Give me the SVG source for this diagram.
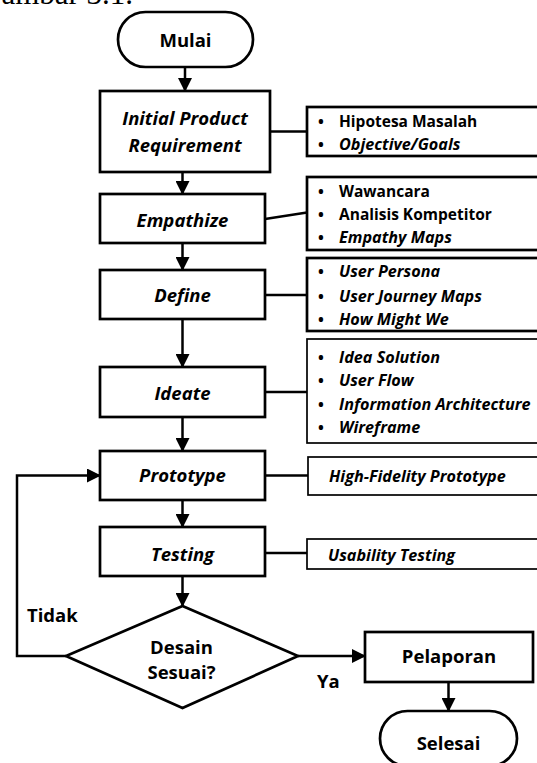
<svg xmlns="http://www.w3.org/2000/svg" width="537" height="763" viewBox="0 0 537 763">
<style>
.box{fill:#fff;stroke:#000;stroke-width:2.7}
.thin{stroke-width:1.7}
.lbl{font-family:"Open Sans","DejaVu Sans",sans-serif;font-weight:bold;font-style:italic;font-size:18.5px;text-anchor:middle;fill:#000}
.plain{font-style:normal}
.side{font-family:"Open Sans","DejaVu Sans",sans-serif;font-weight:bold;font-size:15.5px;fill:#000}
.it{font-style:italic;font-size:16.2px}
.conn{stroke:#000;stroke-width:2.5;fill:none}
.cap{font-family:"Liberation Serif","Times New Roman",serif;font-size:31px;fill:#000}
</style>
<defs>
<marker id="arr" viewBox="0 0 14 14" refX="12" refY="7" markerWidth="14" markerHeight="14" markerUnits="userSpaceOnUse" orient="auto">
<path d="M0,0 L14,7 L0,14 Z" fill="#000"/>
</marker>
</defs>
<rect width="537" height="763" fill="#fff"/>
<text class="cap" x="-21" y="4">Gambar 3.1.</text>

<g id="connectors">
<path class="conn" d="M185,67 V90" marker-end="url(#arr)"/>
<path class="conn" d="M182.5,172 V193" marker-end="url(#arr)"/>
<path class="conn" d="M182.5,243 V269" marker-end="url(#arr)"/>
<path class="conn" d="M182.5,319 V366" marker-end="url(#arr)"/>
<path class="conn" d="M182.5,417 V450" marker-end="url(#arr)"/>
<path class="conn" d="M182.5,500 V526" marker-end="url(#arr)"/>
<path class="conn" d="M182.5,576 V605" marker-end="url(#arr)"/>
<path class="conn" d="M298,656 H364" marker-end="url(#arr)"/>
<path class="conn" d="M448.5,682 V710" marker-end="url(#arr)"/>
<path class="conn" d="M66,656 H17 V475.5 H99" marker-end="url(#arr)"/>
<path class="conn" d="M270,131.5 H307"/>
<path class="conn" d="M265,219 L307,212.5"/>
<path class="conn" d="M265,295 H307"/>
<path class="conn" d="M265,392 H307"/>
<path class="conn" d="M265,475.5 H308"/>
<path class="conn" d="M265,553 H307"/>
<text class="lbl plain" x="27" y="622" style="text-anchor:start">Tidak</text>
<text class="lbl plain" x="317" y="688" style="text-anchor:start">Ya</text>
</g>

<g id="mulai">
<rect class="box" x="118" y="12" width="135" height="55" rx="27.5"/>
<text class="lbl plain" x="185.5" y="46.5">Mulai</text>
</g>
<g id="initial">
<rect class="box" x="100" y="91" width="170" height="81"/>
<text class="lbl" x="185" y="125">Initial Product</text>
<text class="lbl" x="185" y="152">Requirement</text>
</g>
<g id="empathize">
<rect class="box" x="100" y="194" width="165" height="49"/>
<text class="lbl" x="182.5" y="226.5">Empathize</text>
</g>
<g id="define">
<rect class="box" x="100" y="270" width="165" height="49"/>
<text class="lbl" x="182.5" y="301.5">Define</text>
</g>
<g id="ideate">
<rect class="box" x="100" y="367" width="165" height="50"/>
<text class="lbl" x="182.5" y="400">Ideate</text>
</g>
<g id="prototype">
<rect class="box" x="100" y="451" width="165" height="49"/>
<text class="lbl" x="182.5" y="482">Prototype</text>
</g>
<g id="testing">
<rect class="box" x="100" y="527" width="165" height="49"/>
<text class="lbl" x="182.5" y="560.5">Testing</text>
</g>
<g id="decision">
<polygon class="box" points="182.5,606 298,656 182.5,708 66,656"/>
<text class="lbl plain" x="181.5" y="653.5">Desain</text>
<text class="lbl plain" x="181.5" y="679">Sesuai?</text>
</g>
<g id="pelaporan">
<rect class="box" x="365" y="632" width="168" height="50"/>
<text class="lbl plain" x="449" y="662.5">Pelaporan</text>
</g>
<g id="selesai">
<rect class="box" x="380" y="711" width="137" height="55" rx="27.5"/>
<text class="lbl plain" x="448.5" y="750">Selesai</text>
</g>

<g id="note-initial">
<rect class="box" x="307" y="107" width="235" height="49"/>
<text class="side" x="318" y="127">•</text><text class="side" x="339" y="127">Hipotesa Masalah</text>
<text class="side" x="318" y="150">•</text><text class="side it" x="339" y="150">Objective/Goals</text>
</g>
<g id="note-empathize">
<rect class="box" x="307" y="177" width="235" height="73"/>
<text class="side" x="318" y="196.5">•</text><text class="side" x="339" y="196.5">Wawancara</text>
<text class="side" x="318" y="220">•</text><text class="side" x="339" y="220">Analisis Kompetitor</text>
<text class="side" x="318" y="243">•</text><text class="side it" x="339" y="243">Empathy Maps</text>
</g>
<g id="note-define">
<rect class="box" x="307" y="258" width="235" height="73"/>
<text class="side" x="318" y="277">•</text><text class="side it" x="339" y="277">User Persona</text>
<text class="side" x="318" y="301.5">•</text><text class="side it" x="339" y="301.5">User Journey Maps</text>
<text class="side" x="318" y="325">•</text><text class="side it" x="339" y="325">How Might We</text>
</g>
<g id="note-ideate">
<rect class="box thin" x="307" y="339" width="235" height="104"/>
<text class="side" x="318" y="362.5">•</text><text class="side it" x="339" y="362.5">Idea Solution</text>
<text class="side" x="318" y="386">•</text><text class="side it" x="339" y="386">User Flow</text>
<text class="side" x="318" y="409.5">•</text><text class="side it" x="339" y="409.5">Information Architecture</text>
<text class="side" x="318" y="433">•</text><text class="side it" x="339" y="433">Wireframe</text>
</g>
<g id="note-prototype">
<rect class="box thin" x="308" y="457" width="234" height="38"/>
<text class="side it" x="329" y="482">High-Fidelity Prototype</text>
</g>
<g id="note-testing">
<rect class="box thin" x="307" y="539" width="235" height="30"/>
<text class="side it" x="328" y="561">Usability Testing</text>
</g>
</svg>
